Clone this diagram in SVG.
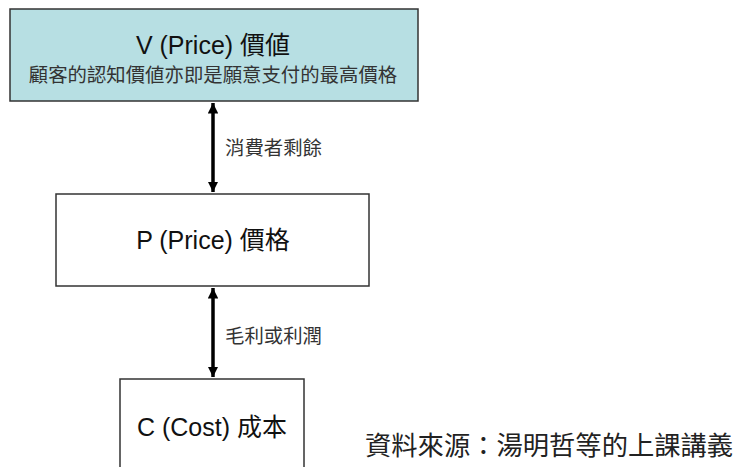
<svg xmlns="http://www.w3.org/2000/svg" width="742" height="467" viewBox="0 0 742 467">
<style>
.box{stroke:#333;stroke-width:1.5}
.t{font-family:"Liberation Sans","Noto Sans CJK TC",sans-serif;fill:#111;text-anchor:middle}
.big{font-size:25px}
.sub{font-size:19.4px;fill:#333}
.lab{font-family:"Liberation Sans","Noto Sans CJK TC",sans-serif;font-size:19.4px;fill:#333}
.src{font-family:"Liberation Sans","Noto Sans CJK TC",sans-serif;font-size:26.3px;fill:#222}
.conn{stroke:#000;stroke-width:3.5;fill:none}
</style>
<defs>
<marker id="ah" viewBox="0 0 10 10" refX="10" refY="5" markerWidth="3" markerHeight="3" orient="auto-start-reverse" markerUnits="strokeWidth">
<path d="M0,0 L10,5 L0,10 Z" fill="#000"/>
</marker>
</defs>
<rect width="742" height="467" fill="#fff"/>
<g id="node-v">
<rect class="box" x="10" y="9" width="408" height="92" fill="#b7dfe3"/>
<text class="t big" x="213" y="54">V (Price) 價値</text>
<text class="t sub" x="213" y="82">顧客的認知價値亦即是願意支付的最高價格</text>
</g>
<g id="node-p">
<rect class="box" x="56" y="194" width="313" height="92" fill="#fff"/>
<text class="t big" x="213" y="249">P (Price) 價格</text>
</g>
<g id="node-c">
<rect class="box" x="120" y="379" width="184" height="100" fill="#fff"/>
<text class="t big" x="212" y="436">C (Cost) 成本</text>
</g>
<g id="connectors">
<line class="conn" x1="213" y1="103" x2="213" y2="192" marker-start="url(#ah)" marker-end="url(#ah)"/>
<line class="conn" x1="213" y1="288" x2="213" y2="377" marker-start="url(#ah)" marker-end="url(#ah)"/>
<text class="lab" x="225" y="155">消費者剩餘</text>
<text class="lab" x="225" y="343">毛利或利潤</text>
</g>
<text class="src" x="365" y="455">資料來源：湯明哲等的上課講義</text>
</svg>
